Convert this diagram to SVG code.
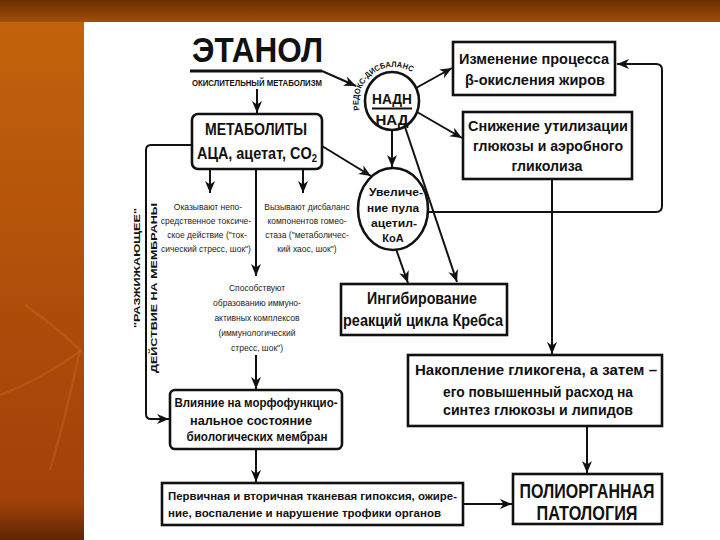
<svg xmlns="http://www.w3.org/2000/svg" width="720" height="540" viewBox="0 0 720 540">
<defs>
<linearGradient id="topg" x1="0" y1="0" x2="0" y2="1">
<stop offset="0" stop-color="#6a2e02"/>
<stop offset="1" stop-color="#a34e08"/>
</linearGradient>
<linearGradient id="leftg" x1="0" y1="0" x2="0" y2="1">
<stop offset="0" stop-color="#c4640c"/>
<stop offset="0.6" stop-color="#ad4c0a"/>
<stop offset="0.93" stop-color="#a2400a"/>
<stop offset="1" stop-color="#5e2604"/>
</linearGradient>
<marker id="ah" markerUnits="userSpaceOnUse" markerWidth="13" markerHeight="11" refX="12" refY="5" orient="auto">
<path d="M0,0 L12,5 L0,10 L3.5,5 Z" fill="#111"/>
</marker>
<path id="arc" d="M359.5,110 A35,35 0 0 1 412.1,72.3"/>
</defs>
<style>
.box{fill:#fff;stroke:#111;stroke-width:2.6}
.ln{fill:none;stroke:#111;stroke-width:2;marker-end:url(#ah)}
.t{font-family:"Liberation Sans",Arial,sans-serif;fill:#111;font-weight:bold;text-anchor:middle}
.s{font-family:"Liberation Sans",Arial,sans-serif;fill:#222;font-size:8.5px;text-anchor:middle}
</style>
<rect x="0" y="0" width="720" height="540" fill="#ffffff"/>
<rect x="0" y="0" width="84" height="540" fill="url(#leftg)"/>
<rect x="0" y="0" width="720" height="22" fill="url(#topg)"/>
<g fill="none" stroke="#dc8a30" stroke-opacity="0.22" stroke-width="2.5">
<path d="M0,395 Q40,380 82,350"/>
<path d="M25,305 Q60,330 80,350 Q65,420 50,470"/>
</g>

<g id="connectors">
<path d="M190,71 L322,71" stroke="#111" stroke-width="3.2" fill="none"/>
<path class="ln" d="M322,71 L356,86"/>
<path class="ln" d="M257,89 L257,113"/>
<path class="ln" d="M322,146 L371,176"/>
<path class="ln" d="M416,88 L452,68"/>
<path class="ln" d="M417,112 L462,138"/>
<path class="ln" d="M392,130 L392,167"/>
<path class="ln" d="M405,127 L457,282"/>
<path class="ln" d="M396,249 L408,283"/>
<path class="ln" d="M428,212 L656,212 Q662,212 662,206 L662,70 Q662,64 656,64 L617,64"/>
<path class="ln" d="M552,179 L552,354"/>
<path class="ln" d="M210,169 L210,193"/>
<path class="ln" d="M303,169 L303,193"/>
<path class="ln" d="M256,169 L256,276"/>
<path class="ln" d="M256,355 L256,389"/>
<path class="ln" d="M192,145 L151,145 Q146,145 146,150 L146,414 Q146,419 151,419 L169,419"/>
<path class="ln" d="M256,449 L256,482"/>
<path class="ln" d="M587,426 L587,473"/>
<path class="ln" d="M463,504 L512,504"/>
</g>

<g id="ethanol">
<text class="t" x="257.5" y="62" font-size="35" textLength="131" lengthAdjust="spacingAndGlyphs">ЭТАНОЛ</text>
<text class="t" x="257" y="86" font-size="8.5" textLength="130" lengthAdjust="spacingAndGlyphs">ОКИСЛИТЕЛЬНЫЙ МЕТАБОЛИЗМ</text>
</g>

<g id="metabolites">
<rect class="box" x="192" y="114" width="130" height="55" rx="6"/>
<text class="t" x="256" y="135" font-size="17" textLength="102" lengthAdjust="spacingAndGlyphs">МЕТАБОЛИТЫ</text>
<text class="t" x="257" y="159" font-size="16" textLength="120" lengthAdjust="spacingAndGlyphs">АЦА, ацетат, CO<tspan font-size="10.5" dy="3">2</tspan></text>
</g>

<g id="nadh">
<ellipse cx="392" cy="101" rx="27" ry="29" fill="#fff" stroke="#111" stroke-width="2.6"/>
<text class="t" x="392" y="104" font-size="15.5" textLength="40" lengthAdjust="spacingAndGlyphs">НАДН</text>
<line x1="372" y1="108.5" x2="412" y2="108.5" stroke="#111" stroke-width="1.8"/>
<text class="t" x="392" y="125" font-size="15.5" textLength="33" lengthAdjust="spacingAndGlyphs">НАД</text>
<text class="t" font-size="8" style="text-anchor:start"><textPath href="#arc" textLength="82" lengthAdjust="spacingAndGlyphs">РЕДОКС-ДИСБАЛАНС</textPath></text>
</g>

<g id="beta">
<rect class="box" x="453" y="42" width="162" height="53"/>
<text class="t" x="534" y="64" font-size="14" textLength="150" lengthAdjust="spacingAndGlyphs">Изменение процесса</text>
<text class="t" x="535" y="85" font-size="14" textLength="140" lengthAdjust="spacingAndGlyphs">β-окисления жиров</text>
</g>

<g id="glucose">
<rect class="box" x="463" y="112" width="169" height="67"/>
<text class="t" x="548" y="131" font-size="14" textLength="160" lengthAdjust="spacingAndGlyphs">Снижение утилизации</text>
<text class="t" x="548" y="151" font-size="14" textLength="150" lengthAdjust="spacingAndGlyphs">глюкозы и аэробного</text>
<text class="t" x="547" y="171" font-size="14" textLength="71" lengthAdjust="spacingAndGlyphs">гликолиза</text>
</g>

<g id="acetylcoa">
<ellipse cx="393" cy="209" rx="35" ry="41" fill="#fff" stroke="#111" stroke-width="2.6"/>
<text class="t" x="396" y="196" font-size="11" textLength="54" lengthAdjust="spacingAndGlyphs">Увеличе-</text>
<text class="t" x="393" y="212" font-size="11" textLength="52" lengthAdjust="spacingAndGlyphs">ние пула</text>
<text class="t" x="394" y="227" font-size="11" textLength="46" lengthAdjust="spacingAndGlyphs">ацетил-</text>
<text class="t" x="393" y="242" font-size="11">КоА</text>
</g>

<g id="krebs">
<rect class="box" x="341" y="284" width="166" height="51"/>
<text class="t" x="422" y="304" font-size="17" textLength="110" lengthAdjust="spacingAndGlyphs">Ингибирование</text>
<text class="t" x="423" y="326" font-size="17" textLength="160" lengthAdjust="spacingAndGlyphs">реакций цикла Кребса</text>
</g>

<g id="toxic">
<text class="s" x="208" y="210">Оказывают непо-</text>
<text class="s" x="206" y="224">средственное токсиче-</text>
<text class="s" x="207" y="238">ское действие ("ток-</text>
<text class="s" x="206" y="252">сический стресс, шок")</text>
</g>

<g id="homeostasis">
<text class="s" x="307" y="210">Вызывают дисбаланс</text>
<text class="s" x="307" y="224">компонентов гомео-</text>
<text class="s" x="307" y="238">стаза ("метаболичес-</text>
<text class="s" x="307" y="252">кий хаос, шок")</text>
</g>

<g id="immune">
<text class="s" x="257" y="291">Способствуют</text>
<text class="s" x="257" y="306">образованию иммуно-</text>
<text class="s" x="257" y="321">активных комплексов</text>
<text class="s" x="257" y="336">(иммунологический</text>
<text class="s" x="257" y="351">стресс, шок")</text>
</g>

<g id="membrane-label">
<text class="t" transform="translate(140,268) rotate(-90)" font-size="9" textLength="120" lengthAdjust="spacingAndGlyphs">"РАЗЖИЖАЮЩЕЕ"</text>
<text class="t" transform="translate(157,288) rotate(-90)" font-size="9.5" textLength="170" lengthAdjust="spacingAndGlyphs">ДЕЙСТВИЕ НА МЕМБРАНЫ</text>
</g>

<g id="membranes">
<rect class="box" x="170" y="390" width="172" height="59" rx="5"/>
<text class="t" x="256" y="407" font-size="12.5" textLength="163" lengthAdjust="spacingAndGlyphs">Влияние на морфофункцио-</text>
<text class="t" x="251" y="425" font-size="12.5" textLength="122" lengthAdjust="spacingAndGlyphs" font-weight="normal">нальное состояние</text>
<text class="t" x="257" y="441" font-size="12.5" textLength="141" lengthAdjust="spacingAndGlyphs" font-weight="normal">биологических мембран</text>
</g>

<g id="hypoxia">
<rect class="box" x="162" y="483" width="301" height="42"/>
<text class="t" x="168" y="500" font-size="11.5" style="text-anchor:start" textLength="289" lengthAdjust="spacingAndGlyphs">Первичная и вторичная тканевая гипоксия, ожире-</text>
<text class="t" x="168" y="517" font-size="11.5" style="text-anchor:start" textLength="273" lengthAdjust="spacingAndGlyphs">ние, воспаление и нарушение трофики органов</text>
</g>

<g id="glycogen">
<rect class="box" x="408" y="355" width="254" height="71"/>
<text class="t" x="536" y="375" font-size="14" textLength="242" lengthAdjust="spacingAndGlyphs">Накопление  гликогена, а затем –</text>
<text class="t" x="538" y="397" font-size="14" textLength="190" lengthAdjust="spacingAndGlyphs">его повышенный расход на</text>
<text class="t" x="538" y="415" font-size="14" textLength="190" lengthAdjust="spacingAndGlyphs">синтез глюкозы и липидов</text>
</g>

<g id="polyorgan">
<rect class="box" x="513" y="474" width="149" height="50" stroke-width="3"/>
<text class="t" x="587" y="498" font-size="20" font-weight="normal" textLength="135" lengthAdjust="spacingAndGlyphs">ПОЛИОРГАННАЯ</text>
<text class="t" x="587" y="520" font-size="20" font-weight="normal" textLength="101" lengthAdjust="spacingAndGlyphs">ПАТОЛОГИЯ</text>
</g>
</svg>
